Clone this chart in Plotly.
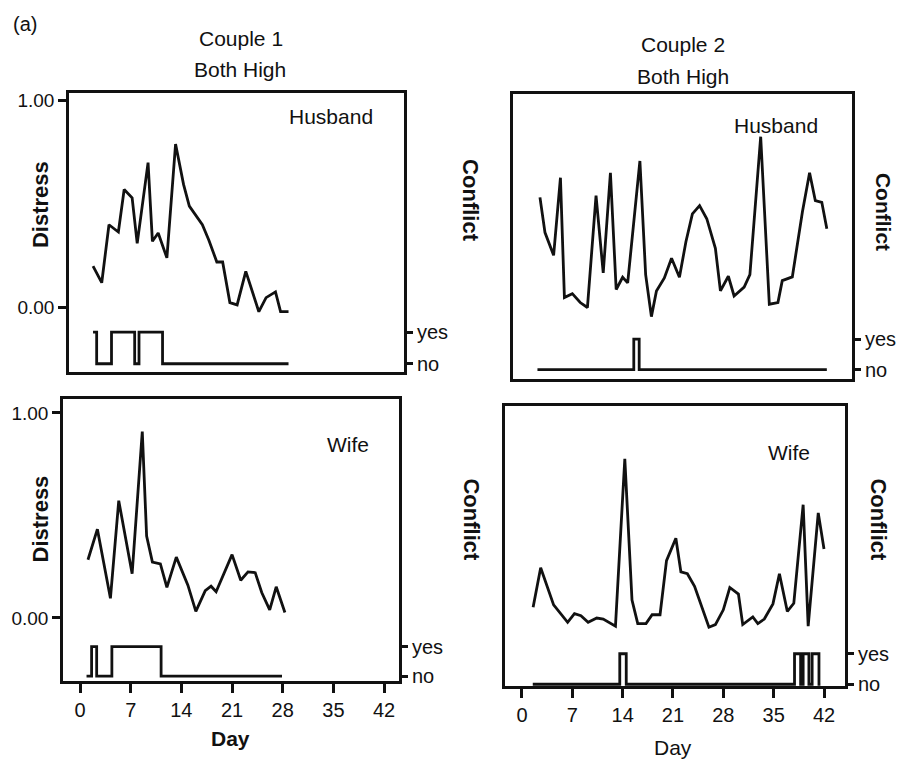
import plotly.graph_objects as go

# ---------------- data ----------------
# Couple 1, Husband
c1h_day = [1.8, 3.0, 4.0, 5.3, 6.1, 7.2, 7.9, 9.4, 10.0, 10.8, 12.0, 13.2, 14.3, 15.1, 16.9,
           17.8, 18.9, 19.7, 20.7, 21.7, 22.9, 24.7, 25.7, 27.0, 27.7, 28.8]
c1h_distress = [0.20, 0.12, 0.40, 0.365, 0.57, 0.53, 0.31, 0.70, 0.32, 0.36, 0.24, 0.79, 0.595, 0.49,
                0.40, 0.325, 0.22, 0.22, 0.024, 0.013, 0.175, -0.02, 0.048, 0.076, -0.02, -0.02]
c1h_conf_day = [1.8, 2.3, 4.35, 7.55, 8.15, 11.4, 28.8]
c1h_conflict = [1, 0, 1, 0, 1, 0, 0]

# Couple 1, Wife
c1w_day = [1.1, 2.4, 4.2, 5.35, 7.2, 8.6, 9.2, 10.0, 11.1, 12.0, 13.3, 14.9, 16.0, 17.3, 18.1, 18.8,
           21.0, 22.2, 23.2, 24.2, 25.1, 26.2, 27.1, 28.3]
c1w_distress = [0.284, 0.433, 0.096, 0.572, 0.216, 0.909, 0.40, 0.273, 0.264, 0.149, 0.297, 0.160,
                0.032, 0.133, 0.155, 0.128, 0.309, 0.184, 0.225, 0.221, 0.124, 0.04, 0.152, 0.027]
c1w_conf_day = [0.9, 1.6, 2.3, 4.4, 11.2, 27.9]
c1w_conflict = [0, 1, 0, 1, 0, 0]

# Couple 2, Husband
c2h_day = [2.5, 3.2, 4.4, 5.35, 5.9, 7.0, 8.1, 9.1, 10.3, 11.3, 12.3, 13.1, 14.0, 14.7, 16.4, 17.2,
           18.0, 18.7, 19.8, 20.8, 21.9, 22.8, 23.7, 24.7, 25.7, 26.9, 27.6, 28.7, 29.5, 30.9, 31.7,
           33.2, 34.4, 35.6, 36.2, 37.6, 39.0, 40.0, 40.8, 41.7, 42.4]
c2h_distress = [0.57, 0.40, 0.29, 0.665, 0.086, 0.105, 0.062, 0.038, 0.578, 0.205, 0.689, 0.125,
                0.184, 0.157, 0.746, 0.197, -0.006, 0.118, 0.181, 0.276, 0.184, 0.356, 0.49, 0.53,
                0.467, 0.324, 0.118, 0.189, 0.094, 0.137, 0.197, 0.863, 0.054, 0.062, 0.168, 0.186,
                0.499, 0.689, 0.554, 0.546, 0.419]
c2h_conf_day = [2.15, 15.55, 16.3, 42.4]
c2h_conflict = [0, 1, 0, 0]

# Couple 2, Wife
c2w_day = [1.55, 2.6, 4.4, 6.35, 7.3, 8.2, 9.2, 10.4, 11.3, 13.0, 14.3, 15.3, 16.1, 17.25, 18.1,
           19.2, 20.1, 21.4, 22.1, 23.0, 24.0, 25.1, 26.0, 26.9, 28.0, 28.9, 30.1, 30.7, 32.1, 32.8,
           33.7, 34.9, 35.8, 36.9, 37.8, 39.1, 39.8, 41.2, 42.0]
c2w_distress = [0.101, 0.293, 0.112, 0.027, 0.069, 0.059, 0.027, 0.048, 0.043, 0.008, 0.825, 0.136,
                0.021, 0.021, 0.064, 0.064, 0.328, 0.4375, 0.273, 0.264, 0.203, 0.088, 0.003, 0.016,
                0.088, 0.197, 0.165, 0.016, 0.053, 0.021, 0.043, 0.117, 0.264, 0.08, 0.12, 0.601,
                0.008, 0.561, 0.385]
c2w_conf_day = [1.5, 13.6, 14.5, 37.9, 38.75, 39.1, 39.9, 40.35, 41.3, 41.5]
c2w_conflict = [0, 1, 0, 1, 0, 1, 0, 1, 0, 0]

day_ticks = [0, 7, 14, 21, 28, 35, 42]
distress_ticks = [0, 1]
distress_ticklabels = ["0.00", "1.00"]
conflict_ticks = [0, 1]
conflict_ticklabels = ["no", "yes"]

# ---------------- layout helpers ----------------
W, H = 898, 768
FONT = "Liberation Sans, Arial, Helvetica, sans-serif"
INK = "#111111"
LW = 2.8


def px(x):
    return x / W


def py(y):
    return 1 - y / H


panels = [
    dict(d=c1h_day, v=c1h_distress, cd=c1h_conf_day, c=c1h_conflict, box=(69, 404, 92, 375),
         xr=[-1.52, 44.75], dr=[-0.3095, 1.038], cr=[-0.25, 8.59], sy=True, sx=False),
    dict(d=c2h_day, v=c2h_distress, cd=c2h_conf_day, c=c2h_conflict, box=(513, 852, 93, 382),
         xr=[-1.25, 45.9], dr=[-0.305, 1.071], cr=[-0.29, 9.03], sy=False, sx=False),
    dict(d=c1w_day, v=c1w_distress, cd=c1w_conf_day, c=c1w_conflict, box=(63, 399, 403, 689),
         xr=[-2.35, 44.06], dr=[-0.308, 1.067], cr=[-0.167, 9.367], sy=True, sx=True),
    dict(d=c2w_day, v=c2w_distress, cd=c2w_conf_day, c=c2w_conflict, box=(505, 845, 410, 694),
         xr=[-2.36, 44.92], dr=[-0.284, 1.082], cr=[-0.06, 9.12], sy=False, sx=True),
]

fig = go.Figure()
layout = dict(
    width=W, height=H, margin=dict(l=0, r=0, t=0, b=0),
    paper_bgcolor="white", plot_bgcolor="white", showlegend=False,
    font=dict(family=FONT, color=INK, size=19),
)

for i, p in enumerate(panels):
    n = i + 1
    xa = "x" if n == 1 else f"x{n}"
    ya = "y" if n == 1 else f"y{2 * n - 1}"
    yb = f"y{2 * n}"
    x0, x1, y0, y1 = p["box"]
    fig.add_trace(go.Scatter(x=p["d"], y=p["v"], mode="lines", xaxis=xa, yaxis=ya,
                             line=dict(color=INK, width=LW), hoverinfo="skip"))
    fig.add_trace(go.Scatter(x=p["cd"], y=p["c"], mode="lines", xaxis=xa, yaxis=yb,
                             line=dict(color=INK, width=LW, shape="hv"), hoverinfo="skip"))
    xkey = "xaxis" if n == 1 else f"xaxis{n}"
    ykey = "yaxis" if n == 1 else f"yaxis{2 * n - 1}"
    ykey2 = f"yaxis{2 * n}"
    layout[xkey] = dict(
        domain=[px(x0), px(x1)], range=p["xr"], anchor=ya,
        showline=True, linecolor=INK, linewidth=2.5, mirror=True, showgrid=False, zeroline=False,
        tickmode="array", tickvals=day_ticks if p["sx"] else [],
        ticktext=[str(t) for t in day_ticks] if p["sx"] else [],
        ticks="outside" if p["sx"] else "", ticklen=9, tickwidth=2.5, tickcolor=INK,
        tickfont=dict(size=20, family=FONT, color=INK), showticklabels=p["sx"],
    )
    layout[ykey] = dict(
        domain=[py(y1), py(y0)], range=p["dr"], anchor=xa,
        showline=True, linecolor=INK, linewidth=2.5, mirror=True, showgrid=False, zeroline=False,
        tickmode="array", tickvals=distress_ticks if p["sy"] else [],
        ticktext=distress_ticklabels if p["sy"] else [],
        ticks="outside" if p["sy"] else "", ticklen=8, tickwidth=2.5, tickcolor=INK,
        tickfont=dict(size=19, family=FONT, color=INK), showticklabels=p["sy"],
    )
    layout[ykey2] = dict(
        overlaying=ya, side="right", anchor=xa,
        range=p["cr"], showline=False, showgrid=False, zeroline=False,
        tickmode="array", tickvals=conflict_ticks, ticktext=conflict_ticklabels,
        ticks="outside", ticklen=8, tickwidth=2.5, tickcolor=INK,
        tickfont=dict(size=20, family=FONT, color=INK),
    )

anns = []


def ann(text, x, y, size=20, bold=False, angle=0, xanchor="center"):
    t = f"<b>{text}</b>" if bold else text
    anns.append(dict(text=t, x=px(x), y=py(y), xref="paper", yref="paper", showarrow=False,
                     xanchor=xanchor, yanchor="middle", textangle=angle,
                     font=dict(size=size, family=FONT, color=INK)))


ann("(a)", 11, 22, size=20, xanchor="left")
ann("Couple 1", 241, 37, size=21)
ann("Both High", 240, 68, size=21)
ann("Couple 2", 683, 43, size=21)
ann("Both High", 683, 76, size=21)
ann("Husband", 331, 116, size=21)
ann("Husband", 776, 125, size=21)
ann("Wife", 348, 449, size=21)
ann("Wife", 789, 457, size=21)
ann("Distress", 40, 206, size=22, bold=True, angle=-90)
ann("Distress", 40, 525, size=22, bold=True, angle=-90)
ann("Conflict", 471, 201, size=22, bold=True, angle=90)
ann("Conflict", 472, 525, size=22, bold=True, angle=90)
ann("Conflict", 883, 213, size=21, bold=True, angle=90)
ann("Conflict", 879, 525, size=22, bold=True, angle=90)
ann("Day", 231, 747, size=21, bold=True)
ann("Day", 673, 756, size=21)

layout["annotations"] = anns
fig.update_layout(**layout)
fig.write_html("out.html")
